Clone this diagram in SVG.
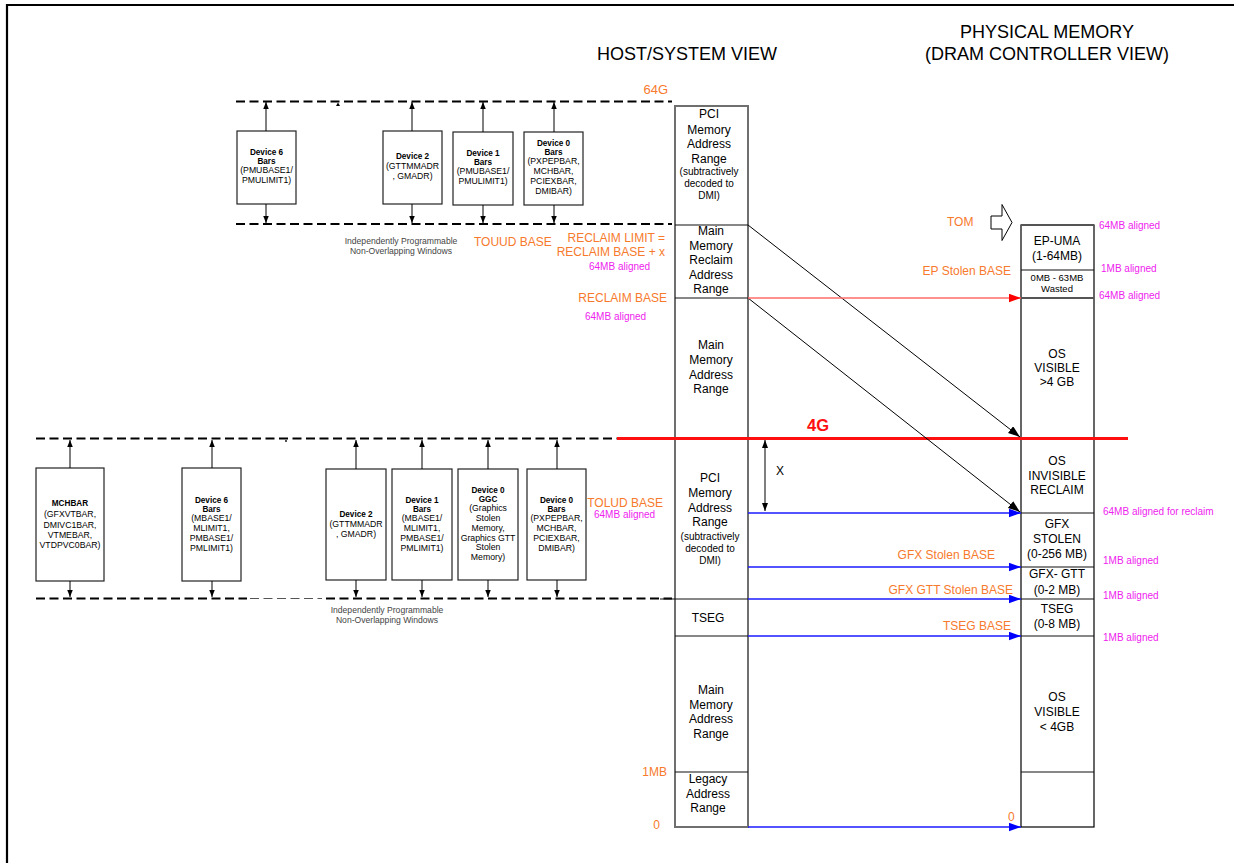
<svg xmlns="http://www.w3.org/2000/svg" width="1234" height="863" viewBox="0 0 1234 863">
<defs>
<style>
text{font-family:"Liberation Sans",Arial,Helvetica,sans-serif;fill:#000}
.c{text-anchor:middle}
.e{text-anchor:end}
.h{font-size:18px}
.m{font-size:12px}
.s{font-size:10px}
.d{font-size:8.7px;text-anchor:middle}
.db{font-size:8.2px;font-weight:bold;text-anchor:middle}
.g{font-size:8.6px;fill:#444;text-anchor:middle}
.o{font-size:12px;fill:#f77a2c}
.p{font-size:10px;fill:#ee22ee}
.box{fill:#fff;stroke:#222;stroke-width:1.2}
.dash{fill:none;stroke:#000;stroke-width:2;stroke-dasharray:9 4.5}
.dashthin{fill:none;stroke:#555;stroke-width:1;stroke-dasharray:9 4.5}
.dv{stroke:#000;stroke-width:1;fill:none}
.div{stroke:#111;stroke-width:1.2}
.blue{stroke:#1a1aff;stroke-width:1.3;fill:none;marker-end:url(#ab)}
.diag{stroke:#000;stroke-width:1;fill:none;marker-end:url(#ak)}
</style>
<marker id="as" markerUnits="userSpaceOnUse" markerWidth="8" markerHeight="6" refX="7" refY="2.75" orient="auto"><path d="M0,0 L7,2.75 L0,5.5 z" fill="#000"/></marker>
<marker id="ab" markerUnits="userSpaceOnUse" markerWidth="13" markerHeight="9" refX="12" refY="4.25" orient="auto"><path d="M0,0 L12,4.25 L0,8.5 z" fill="#0000ff"/></marker>
<marker id="ar" markerUnits="userSpaceOnUse" markerWidth="13" markerHeight="9" refX="12" refY="4.25" orient="auto"><path d="M0,0 L12,4.25 L0,8.5 z" fill="#ff0000"/></marker>
<marker id="ak" markerUnits="userSpaceOnUse" markerWidth="13" markerHeight="9" refX="12" refY="4.25" orient="auto"><path d="M0,0 L12,4.25 L0,8.5 z" fill="#000"/></marker>
<marker id="ax" markerUnits="userSpaceOnUse" markerWidth="9" markerHeight="7" refX="8" refY="3" orient="auto-start-reverse"><path d="M0,0 L8,3 L0,6 z" fill="#000"/></marker>
</defs>
<rect width="1234" height="863" fill="#fff"/>
<path d="M7,863 V5 H1234" fill="none" stroke="#000" stroke-width="2.2"/>

<g id="titles">
<text class="h c" x="687" y="60">HOST/SYSTEM VIEW</text>
<text class="h c" x="1047" y="38">PHYSICAL MEMORY</text>
<text class="h c" x="1047" y="60">(DRAM CONTROLLER VIEW)</text>
</g>

<g id="windows">
<line class="dash" x1="236" y1="101.5" x2="672" y2="101.5"/>
<line class="dash" x1="236" y1="224" x2="672" y2="224"/>
<path d="M336,106 L338,102.5 L340,106 z" fill="#000"/>
<text class="g" x="401" y="244">Independently Programmable</text>
<text class="g" x="401" y="254">Non-Overlapping Windows</text>
<line class="dash" x1="36" y1="438.5" x2="617" y2="438.5"/>
<circle cx="286" cy="441" r="0.9" fill="#000"/>
<line class="dash" x1="36" y1="598.5" x2="247" y2="598.5"/>
<line class="dashthin" x1="250" y1="598.5" x2="322" y2="598.5"/>
<line class="dash" x1="326" y1="598.5" x2="672" y2="598.5"/>
<text class="g" x="387" y="613">Independently Programmable</text>
<text class="g" x="387" y="623">Non-Overlapping Windows</text>
</g>

<g id="dev6-upper">
<rect class="box" x="237" y="131" width="59" height="73"/>
<line class="dv" x1="266" y1="131" x2="266" y2="102" marker-end="url(#as)"/>
<line class="dv" x1="266" y1="204" x2="266" y2="223" marker-end="url(#as)"/>
<text class="db" x="266.5" y="155">Device 6</text>
<text class="db" x="266.5" y="164">Bars</text>
<text class="d" x="266.5" y="173">(PMUBASE1/</text>
<text class="d" x="266.5" y="183">PMULIMIT1)</text>
</g>
<g id="dev2-upper">
<rect class="box" x="383" y="131" width="59" height="73"/>
<line class="dv" x1="412" y1="131" x2="412" y2="102" marker-end="url(#as)"/>
<line class="dv" x1="412" y1="204" x2="412" y2="223" marker-end="url(#as)"/>
<text class="db" x="412.5" y="159">Device 2</text>
<text class="d" x="412.5" y="169">(GTTMMADR</text>
<text class="d" x="412.5" y="179">, GMADR)</text>
</g>
<g id="dev1-upper">
<rect class="box" x="453" y="132" width="60" height="73"/>
<line class="dv" x1="483" y1="132" x2="483" y2="102" marker-end="url(#as)"/>
<line class="dv" x1="483" y1="205" x2="483" y2="223" marker-end="url(#as)"/>
<text class="db" x="483" y="156">Device 1</text>
<text class="db" x="483" y="165">Bars</text>
<text class="d" x="483" y="173.5">(PMUBASE1/</text>
<text class="d" x="483" y="183.5">PMULIMIT1)</text>
</g>
<g id="dev0-upper">
<rect class="box" x="524" y="132" width="59" height="73"/>
<line class="dv" x1="554" y1="132" x2="554" y2="102" marker-end="url(#as)"/>
<line class="dv" x1="554" y1="205" x2="554" y2="223" marker-end="url(#as)"/>
<text class="db" x="553.5" y="146">Device 0</text>
<text class="db" x="553.5" y="155">Bars</text>
<text class="d" x="553.5" y="163.5">(PXPEPBAR,</text>
<text class="d" x="553.5" y="173.5">MCHBAR,</text>
<text class="d" x="553.5" y="183.5">PCIEXBAR,</text>
<text class="d" x="553.5" y="193.5">DMIBAR)</text>
</g>

<g id="mchbar-lower">
<rect class="box" x="36" y="468" width="68" height="113"/>
<line class="dv" x1="70" y1="468" x2="70" y2="440" marker-end="url(#as)"/>
<line class="dv" x1="70" y1="581" x2="70" y2="597" marker-end="url(#as)"/>
<text class="db" x="70" y="506">MCHBAR</text>
<text class="d" x="70" y="517">(GFXVTBAR,</text>
<text class="d" x="70" y="527.5">DMIVC1BAR,</text>
<text class="d" x="70" y="538">VTMEBAR,</text>
<text class="d" x="70" y="548">VTDPVC0BAR)</text>
</g>
<g id="dev6-lower">
<rect class="box" x="182" y="468" width="59" height="113"/>
<line class="dv" x1="212" y1="468" x2="212" y2="440" marker-end="url(#as)"/>
<line class="dv" x1="212" y1="581" x2="212" y2="597" marker-end="url(#as)"/>
<text class="db" x="211.5" y="503">Device 6</text>
<text class="db" x="211.5" y="512">Bars</text>
<text class="d" x="211.5" y="520.5">(MBASE1/</text>
<text class="d" x="211.5" y="530.5">MLIMIT1,</text>
<text class="d" x="211.5" y="540.5">PMBASE1/</text>
<text class="d" x="211.5" y="550.5">PMLIMIT1)</text>
</g>
<g id="dev2-lower">
<rect class="box" x="326" y="469" width="60" height="111"/>
<line class="dv" x1="356" y1="469" x2="356" y2="440" marker-end="url(#as)"/>
<line class="dv" x1="356" y1="580" x2="356" y2="597" marker-end="url(#as)"/>
<text class="db" x="356" y="517">Device 2</text>
<text class="d" x="356" y="527">(GTTMMADR</text>
<text class="d" x="356" y="537">, GMADR)</text>
</g>
<g id="dev1-lower">
<rect class="box" x="392" y="469" width="60" height="111"/>
<line class="dv" x1="422" y1="469" x2="422" y2="440" marker-end="url(#as)"/>
<line class="dv" x1="422" y1="580" x2="422" y2="597" marker-end="url(#as)"/>
<text class="db" x="422" y="502.5">Device 1</text>
<text class="db" x="422" y="512">Bars</text>
<text class="d" x="422" y="521">(MBASE1/</text>
<text class="d" x="422" y="531">MLIMIT1,</text>
<text class="d" x="422" y="541">PMBASE1/</text>
<text class="d" x="422" y="551">PMLIMIT1)</text>
</g>
<g id="dev0-ggc-lower">
<rect class="box" x="458" y="469" width="60" height="111"/>
<line class="dv" x1="488" y1="469" x2="488" y2="440" marker-end="url(#as)"/>
<line class="dv" x1="488" y1="580" x2="488" y2="597" marker-end="url(#as)"/>
<text class="db" x="488" y="492.5">Device 0</text>
<text class="db" x="488" y="502">GGC</text>
<text class="d" x="488" y="511">(Graphics</text>
<text class="d" x="488" y="520.5">Stolen</text>
<text class="d" x="488" y="530.5">Memory,</text>
<text class="d" x="488" y="540.5">Graphics GTT</text>
<text class="d" x="488" y="550">Stolen</text>
<text class="d" x="488" y="559.5">Memory)</text>
</g>
<g id="dev0-lower">
<rect class="box" x="527" y="469" width="59" height="111"/>
<line class="dv" x1="557" y1="469" x2="557" y2="440" marker-end="url(#as)"/>
<line class="dv" x1="557" y1="580" x2="557" y2="597" marker-end="url(#as)"/>
<text class="db" x="556.5" y="502.5">Device 0</text>
<text class="db" x="556.5" y="512">Bars</text>
<text class="d" x="556.5" y="521">(PXPEPBAR,</text>
<text class="d" x="556.5" y="531">MCHBAR,</text>
<text class="d" x="556.5" y="541">PCIEXBAR,</text>
<text class="d" x="556.5" y="551">DMIBAR)</text>
</g>

<g id="host-column">
<rect x="675" y="106" width="73" height="721" fill="#fff" stroke="#6f6f6f" stroke-width="2"/>
<line class="div" x1="675" y1="225" x2="748" y2="225"/>
<line class="div" x1="675" y1="298" x2="748" y2="298"/>
<line class="div" x1="660" y1="599" x2="748" y2="599"/>
<line class="div" x1="675" y1="636" x2="748" y2="636"/>
<line class="div" x1="675" y1="772" x2="748" y2="772"/>
<text class="m c" x="709" y="118">PCI</text>
<text class="m c" x="709" y="134">Memory</text>
<text class="m c" x="709" y="148">Address</text>
<text class="m c" x="709" y="163">Range</text>
<text class="s c" x="709" y="175">(subtractively</text>
<text class="s c" x="709" y="187">decoded to</text>
<text class="s c" x="709" y="199">DMI)</text>
<text class="m c" x="711" y="235">Main</text>
<text class="m c" x="711" y="250">Memory</text>
<text class="m c" x="711" y="264">Reclaim</text>
<text class="m c" x="711" y="279">Address</text>
<text class="m c" x="711" y="293">Range</text>
<text class="m c" x="711" y="349">Main</text>
<text class="m c" x="711" y="364">Memory</text>
<text class="m c" x="711" y="379">Address</text>
<text class="m c" x="711" y="393">Range</text>
<text class="m c" x="710" y="482">PCI</text>
<text class="m c" x="710" y="497">Memory</text>
<text class="m c" x="710" y="512">Address</text>
<text class="m c" x="710" y="526">Range</text>
<text class="s c" x="710" y="540">(subtractively</text>
<text class="s c" x="710" y="552">decoded to</text>
<text class="s c" x="710" y="564">DMI)</text>
<text class="m c" x="708" y="622">TSEG</text>
<text class="m c" x="711" y="694">Main</text>
<text class="m c" x="711" y="709">Memory</text>
<text class="m c" x="711" y="723">Address</text>
<text class="m c" x="711" y="738">Range</text>
<text class="m c" x="708" y="783">Legacy</text>
<text class="m c" x="708" y="798">Address</text>
<text class="m c" x="708" y="812">Range</text>
</g>

<g id="physical-column">
<rect x="1021" y="225" width="73" height="602" fill="#fff" stroke="#000" stroke-width="1.2"/>
<line x1="1021" y1="225" x2="1094" y2="225" stroke="#555" stroke-width="2"/>
<line class="div" x1="1021" y1="270" x2="1094" y2="270"/>
<line x1="1021" y1="298" x2="1094" y2="298" stroke="#555" stroke-width="1.8"/>
<line class="div" x1="1021" y1="513" x2="1094" y2="513"/>
<line class="div" x1="1021" y1="567" x2="1094" y2="567"/>
<line class="div" x1="1021" y1="599" x2="1094" y2="599"/>
<line class="div" x1="1021" y1="636" x2="1094" y2="636"/>
<line class="div" x1="1021" y1="772" x2="1094" y2="772"/>
<text class="m c" x="1057" y="245">EP-UMA</text>
<text class="m c" x="1057" y="260">(1-64MB)</text>
<text class="c" x="1057" y="281" font-size="9.5">0MB - 63MB</text>
<text class="c" x="1057" y="292" font-size="9.5">Wasted</text>
<text class="m c" x="1057" y="358">OS</text>
<text class="m c" x="1057" y="372">VISIBLE</text>
<text class="m c" x="1057" y="386">&gt;4 GB</text>
<text class="m c" x="1057" y="465">OS</text>
<text class="m c" x="1057" y="480">INVISIBLE</text>
<text class="m c" x="1057" y="494">RECLAIM</text>
<text class="m c" x="1057" y="528">GFX</text>
<text class="m c" x="1057" y="543">STOLEN</text>
<text class="m c" x="1057" y="558">(0-256 MB)</text>
<text class="m c" x="1057" y="578">GFX- GTT</text>
<text class="m c" x="1057" y="594">(0-2 MB)</text>
<text class="m c" x="1057" y="613">TSEG</text>
<text class="m c" x="1057" y="628">(0-8 MB)</text>
<text class="m c" x="1057" y="701">OS</text>
<text class="m c" x="1057" y="716">VISIBLE</text>
<text class="m c" x="1057" y="731">&lt; 4GB</text>
</g>

<g id="tom-marker">
<polygon points="991,216 1002,216 1002,204.5 1012,222.5 1002,240.5 1002,229 991,229" fill="#fff" stroke="#000" stroke-width="1"/>
</g>

<g id="connectors">
<line x1="617" y1="438.5" x2="1128" y2="438.5" stroke="#ff1010" stroke-width="2.8"/>
<line class="diag" x1="748" y1="225" x2="1020" y2="437"/>
<line class="diag" x1="748" y1="298" x2="1020" y2="512"/>
<line x1="748" y1="298" x2="1021" y2="298" stroke="#ff6b6b" stroke-width="1.5" marker-end="url(#ar)"/>
<line class="blue" x1="748" y1="513" x2="1021" y2="513"/>
<line class="blue" x1="748" y1="567" x2="1021" y2="567"/>
<line class="blue" x1="748" y1="599" x2="1021" y2="599"/>
<line class="blue" x1="748" y1="636" x2="1021" y2="636"/>
<line class="blue" x1="748" y1="827" x2="1021" y2="827"/>
<line x1="765" y1="440" x2="765" y2="511" stroke="#000" stroke-width="1" marker-start="url(#ax)" marker-end="url(#ax)"/>
</g>

<g id="labels">
<text x="818" y="431" class="c" font-size="16.5" font-weight="bold" style="fill:#ff1010">4G</text>
<text class="m" x="776" y="475">X</text>
<text class="o e" x="668" y="94" style="font-size:13px">64G</text>
<text class="o" x="474" y="246">TOUUD BASE</text>
<text class="o e" x="665" y="242">RECLAIM LIMIT =</text>
<text class="o e" x="665" y="256">RECLAIM BASE + x</text>
<text class="p" x="589" y="270">64MB aligned</text>
<text class="o e" x="667" y="302">RECLAIM BASE</text>
<text class="p" x="585" y="320">64MB aligned</text>
<text class="o e" x="663" y="507">TOLUD BASE</text>
<text class="p" x="594" y="518">64MB aligned</text>
<text class="o e" x="667" y="776">1MB</text>
<text class="o e" x="660" y="829">0</text>
<text class="o" x="1008" y="821">0</text>
<text class="o" x="947" y="226">TOM</text>
<text class="o e" x="1011" y="275">EP Stolen BASE</text>
<text class="o e" x="995" y="559">GFX Stolen BASE</text>
<text class="o e" x="1013" y="594">GFX GTT Stolen BASE</text>
<text class="o e" x="1011" y="630">TSEG BASE</text>
<text class="p" x="1099" y="229">64MB aligned</text>
<text class="p" x="1101" y="272">1MB aligned</text>
<text class="p" x="1099" y="299">64MB aligned</text>
<text class="p" x="1103" y="515">64MB aligned for reclaim</text>
<text class="p" x="1103" y="564">1MB aligned</text>
<text class="p" x="1103" y="599">1MB aligned</text>
<text class="p" x="1103" y="641">1MB aligned</text>
</g>
</svg>
